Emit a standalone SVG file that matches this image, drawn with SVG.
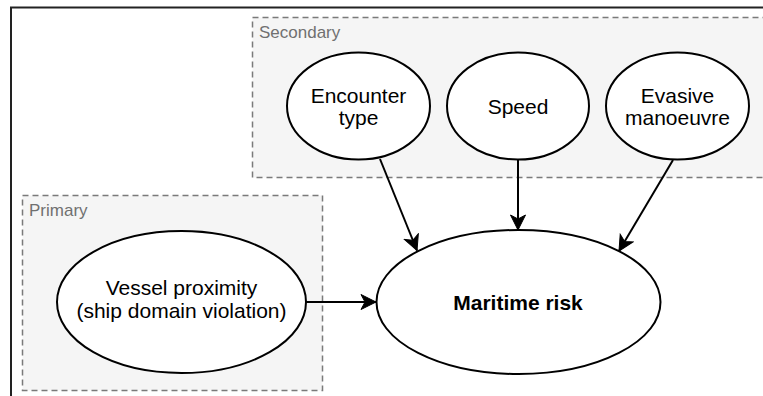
<svg xmlns="http://www.w3.org/2000/svg" width="763" height="396" viewBox="0 0 763 396">
<style>
.group{fill:#f5f5f5;stroke:#7a7a7a;stroke-width:1.5;stroke-dasharray:6 4}
.glabel{font-family:"Liberation Sans",Arial,Helvetica,sans-serif;font-size:17px;fill:#707070}
.node ellipse{fill:#ffffff;stroke:#000000;stroke-width:2}
.node text{font-family:"Liberation Sans",Arial,Helvetica,sans-serif;font-size:21px;fill:#000000;text-anchor:middle}
.edge{fill:none;stroke:#000000;stroke-width:2}
</style>
<defs>
<marker id="arr" markerUnits="userSpaceOnUse" markerWidth="20" markerHeight="20" viewBox="-16 -10 20 20" refX="0" refY="0" orient="auto">
<path d="M0,0 L-15,-7.5 L-11,0 L-15,7.5 Z" fill="#000000" stroke="#000000" stroke-width="1"/>
</marker>
</defs>
<rect x="0" y="0" width="763" height="396" fill="#ffffff"/>
<path d="M11,400 V7.5 H770" fill="none" stroke="#222222" stroke-width="2"/>
<g id="secondary-group">
<rect class="group" x="252.5" y="17.5" width="530" height="160"/>
<text class="glabel" x="259" y="38">Secondary</text>
</g>
<g id="primary-group">
<rect class="group" x="22.5" y="195.5" width="300" height="195"/>
<text class="glabel" x="29" y="216">Primary</text>
</g>
<g id="connectors">
<line class="edge" x1="306" y1="302" x2="376" y2="302" marker-end="url(#arr)"/>
<line class="edge" x1="518" y1="159" x2="518" y2="230" marker-end="url(#arr)"/>
<line class="edge" x1="380" y1="159" x2="417" y2="250.5" marker-end="url(#arr)"/>
<line class="edge" x1="673" y1="160" x2="619" y2="251" marker-end="url(#arr)"/>
</g>
<g id="encounter-type" class="node">
<ellipse cx="358.5" cy="106" rx="71.5" ry="53.5"/>
<text x="358.5" y="102.5">Encounter</text>
<text x="358.5" y="125">type</text>
</g>
<g id="speed" class="node">
<ellipse cx="518" cy="106" rx="71" ry="53.5"/>
<text x="518" y="113.5">Speed</text>
</g>
<g id="evasive-manoeuvre" class="node">
<ellipse cx="677.5" cy="106" rx="71.5" ry="53.5"/>
<text x="677.5" y="102.5">Evasive</text>
<text x="677.5" y="125">manoeuvre</text>
</g>
<g id="vessel-proximity" class="node">
<ellipse cx="181.5" cy="302" rx="124.5" ry="71"/>
<text x="181.5" y="295">Vessel proximity</text>
<text x="181.5" y="318">(ship domain violation)</text>
</g>
<g id="maritime-risk" class="node">
<ellipse cx="518.5" cy="302" rx="142" ry="72"/>
<text x="518" y="310" font-weight="bold">Maritime risk</text>
</g>
</svg>
